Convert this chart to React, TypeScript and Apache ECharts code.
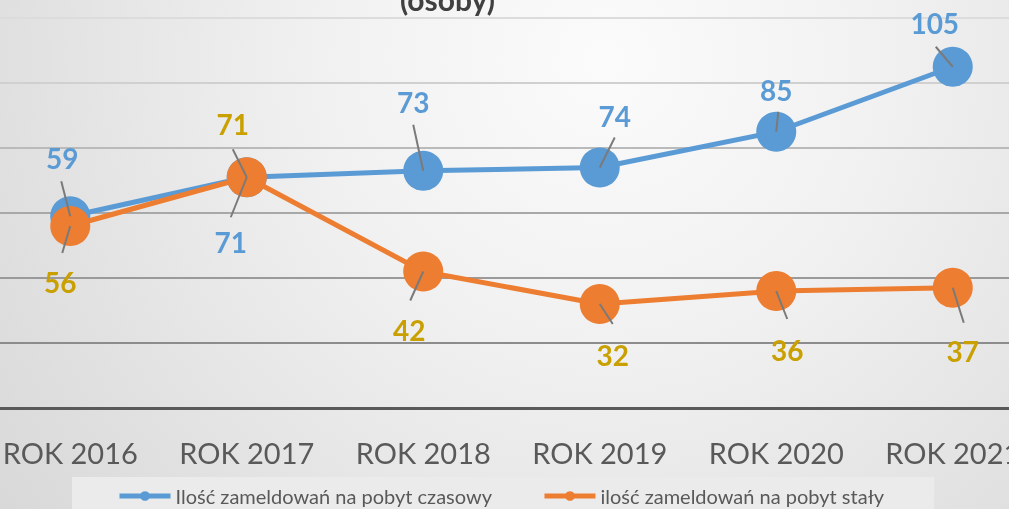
import React, { useEffect, useRef } from 'react';
import * as echarts from 'echarts';

// ---- data ----
const categories = ['ROK 2016', 'ROK 2017', 'ROK 2018', 'ROK 2019', 'ROK 2020', 'ROK 2021'];
const temporaryValues = [59, 71, 73, 74, 85, 105];
const permanentValues = [56, 71, 42, 32, 36, 37];
const seriesNames = ['Ilość zameldowań na pobyt czasowy', 'ilość zameldowań na pobyt stały'];
const titleText = '(osoby)';
const yMin = 0;
const yMax = 120;
const yInterval = 20;

// ---- label placement (pixel offsets from each point: leader end dx, dy, label dx, dy) ----
const temporaryLabelPlacement = [
  [-9, -35, -8, -58],
  [-16, 40, -16, 65],
  [-10, -46, -10, -69],
  [15, -30, 15, -52],
  [2, -20, 0, -42],
  [-17, -20, -18, -44],
];
const permanentLabelPlacement = [
  [-8, 27, -10, 56],
  [-14, -28, -14, -53],
  [-13, 29, -14, 58],
  [13, 20, 13, 51],
  [11, 28, 11, 59],
  [11, 35, 10, 63],
];

const BLUE = '#5B9BD5';
const ORANGE = '#ED7D31';
const BLUE_LABEL = '#5B9BD5';
const GOLD_LABEL = '#C9A000';
const FONT = 'Lato, "Open Sans", sans-serif';

function labelSeries(values: number[], placement: number[][], color: string) {
  return {
    type: 'custom',
    silent: true,
    z: 10,
    data: values.map((v, i) => [i, v]),
    encode: { x: 0, y: 1 },
    renderItem: (params: any, api: any) => {
      const p = api.coord([api.value(0), api.value(1)]);
      const o = placement[params.dataIndex];
      return {
        type: 'group',
        children: [
          {
            type: 'line',
            shape: { x1: p[0], y1: p[1], x2: p[0] + o[0], y2: p[1] + o[1] },
            style: { stroke: '#7a7a7a', lineWidth: 2 },
          },
          {
            type: 'text',
            x: p[0] + o[2],
            y: p[1] + o[3],
            style: {
              text: String(api.value(1)),
              fill: color,
              font: `bold 28px ${FONT}`,
              align: 'center',
              verticalAlign: 'middle',
            },
          },
        ],
      };
    },
  };
}

export default function App() {
  const ref = useRef<HTMLDivElement>(null);

  useEffect(() => {
    if (!ref.current) return;
    const chart = echarts.init(ref.current, undefined, { renderer: 'svg' });
    chart.setOption({
      animation: false,
      backgroundColor: new echarts.graphic.RadialGradient(
        605,
        60,
        800,
        [
          { offset: 0, color: '#fbfbfb' },
          { offset: 0.35, color: '#f1f1f1' },
          { offset: 0.75, color: '#e0e0e0' },
          { offset: 1, color: '#d6d6d6' },
        ],
        true
      ),
      title: {
        text: titleText,
        left: 395,
        top: -21,
        textStyle: { fontFamily: FONT, fontSize: 30, fontWeight: 'bold', color: '#404040' },
      },
      grid: {
        left: -18,
        right: -32,
        top: 18,
        bottom: 101,
        containLabel: false,
        outerBoundsMode: 'none',
      },
      xAxis: {
        type: 'category',
        data: categories,
        boundaryGap: true,
        axisTick: { show: false },
        axisLine: { show: true, lineStyle: { color: '#595959', width: 3 } },
        axisLabel: { interval: 0, fontFamily: FONT, fontSize: 29, color: '#595959', margin: 30 },
      },
      yAxis: {
        type: 'value',
        min: yMin,
        max: yMax,
        interval: yInterval,
        axisLabel: { show: false },
        axisLine: { show: false },
        axisTick: { show: false },
        splitLine: {
          show: true,
          lineStyle: {
            width: 2,
            color: ['#595959', '#8c8c8c', '#9a9a9a', '#a8a8a8', '#bababa', '#d0d0d0', '#dcdcdc'],
          },
        },
      },
      legend: {
        data: seriesNames,
        left: 72,
        top: 477,
        backgroundColor: '#ebebeb',
        padding: [9, 50, 14, 45],
        itemWidth: 51,
        itemHeight: 12,
        itemGap: 50,
        lineStyle: { width: 5 },
        textStyle: { fontFamily: FONT, fontSize: 20, color: '#595959' },
      },
      series: [
        {
          name: seriesNames[0],
          type: 'line',
          data: temporaryValues,
          symbol: 'circle',
          symbolSize: 40,
          itemStyle: { color: BLUE },
          lineStyle: { color: BLUE, width: 5 },
          z: 3,
        },
        {
          name: seriesNames[1],
          type: 'line',
          data: permanentValues,
          symbol: 'circle',
          symbolSize: 40,
          itemStyle: { color: ORANGE },
          lineStyle: { color: ORANGE, width: 5 },
          z: 4,
        },
        labelSeries(temporaryValues, temporaryLabelPlacement, BLUE_LABEL),
        labelSeries(permanentValues, permanentLabelPlacement, GOLD_LABEL),
      ],
    });
    return () => chart.dispose();
  }, []);

  return (
    <div
      ref={ref}
      style={{ position: 'fixed', left: 0, top: 0, width: 1009, height: 509 }}
    />
  );
}
